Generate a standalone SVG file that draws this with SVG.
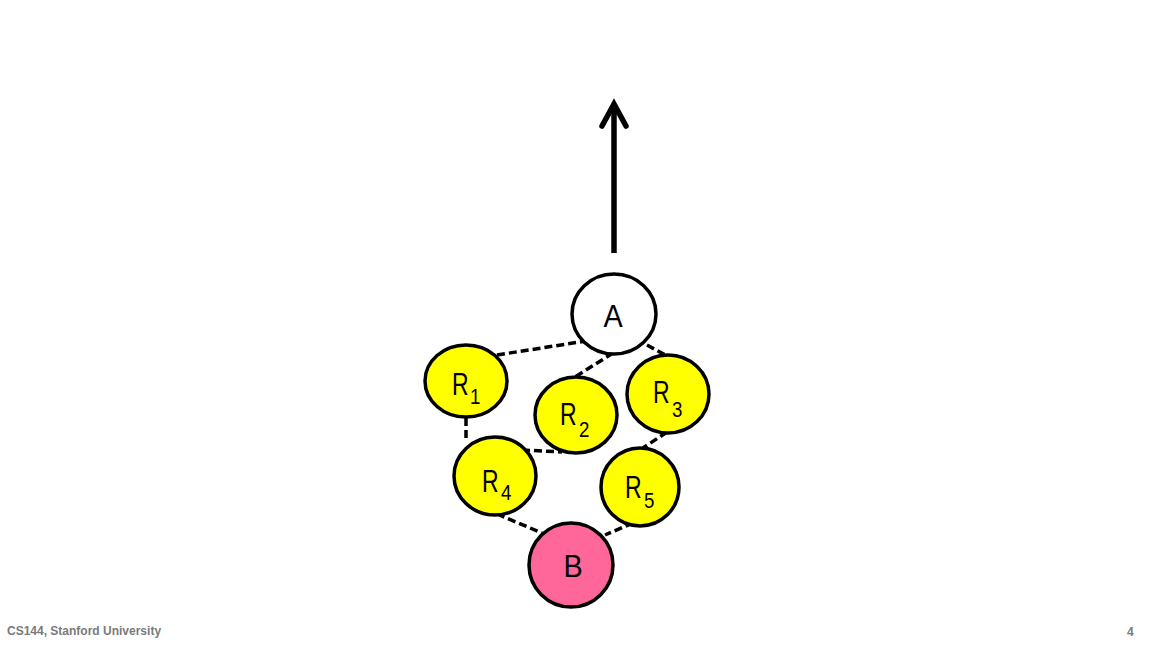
<svg xmlns="http://www.w3.org/2000/svg" width="1152" height="648" viewBox="0 0 1152 648">
<style>
.n{stroke:#000;stroke-width:3.5}
.y{fill:#ffff00}
.w{fill:#fff}
.p{fill:#ff6699}
.lbl{font-family:"Liberation Sans",Arial,sans-serif;font-size:32px;fill:#000}
.sub{font-family:"Liberation Sans",Arial,sans-serif;font-size:22px;fill:#000}
.e{stroke:#000;stroke-width:3.5;stroke-dasharray:8 4;fill:none}
.foot{font-family:"Liberation Sans",Arial,sans-serif;font-size:12px;fill:#7a7a7a;font-weight:bold}
</style>
<rect width="1152" height="648" fill="#fff"/>
<g id="connectors">
<line class="e" x1="497" y1="355" x2="586" y2="341"/>
<line class="e" x1="613" y1="353" x2="575" y2="377"/>
<line class="e" x1="647" y1="345" x2="667" y2="356"/>
<line class="e" x1="466" y1="418" x2="466" y2="441"/>
<line class="e" x1="522" y1="450" x2="562" y2="452"/>
<line class="e" x1="667" y1="432" x2="643" y2="448"/>
<line class="e" x1="497" y1="514" x2="542" y2="533"/>
<line class="e" x1="633" y1="523" x2="605" y2="535"/>
<g id="arrow">
<line x1="614" y1="253" x2="614" y2="106" stroke="#000" stroke-width="5.5"/>
<polyline points="602,126 614,104 626,126" fill="none" stroke="#000" stroke-width="5.5" stroke-linejoin="miter" stroke-linecap="round"/>
</g>
</g>
<g id="A"><ellipse class="n w" cx="614" cy="314" rx="42" ry="40"/><text class="lbl" x="613" y="327" font-size="33" text-anchor="middle" transform="translate(613,0) scale(0.9,1) translate(-613,0)">A</text></g>
<g id="R1"><ellipse class="n y" cx="466" cy="381" rx="41" ry="36"/><text class="lbl" transform="translate(452,395) scale(0.72,1)">R</text><text class="sub" transform="translate(470,404) scale(0.85,1)">1</text></g>
<g id="R2"><ellipse class="n y" cx="576" cy="415" rx="41" ry="38"/><text class="lbl" transform="translate(560,425) scale(0.72,1)">R</text><text class="sub" transform="translate(579,437) scale(0.85,1)">2</text></g>
<g id="R3"><ellipse class="n y" cx="668" cy="394" rx="41" ry="39"/><text class="lbl" transform="translate(653,403) scale(0.72,1)">R</text><text class="sub" transform="translate(672,417) scale(0.85,1)">3</text></g>
<g id="R4"><ellipse class="n y" cx="495" cy="476" rx="41" ry="39"/><text class="lbl" transform="translate(482,492) scale(0.72,1)">R</text><text class="sub" transform="translate(501,500) scale(0.85,1)">4</text></g>
<g id="R5"><ellipse class="n y" cx="640" cy="487" rx="39" ry="39"/><text class="lbl" transform="translate(625,498) scale(0.72,1)">R</text><text class="sub" transform="translate(644,508) scale(0.85,1)">5</text></g>
<g id="B"><ellipse class="n p" cx="571" cy="565" rx="42" ry="42"/><text class="lbl" x="573" y="577" font-size="31" text-anchor="middle" transform="translate(573,0) scale(0.9,1) translate(-573,0)">B</text></g>
<text class="foot" x="7" y="635">CS144, Stanford University</text>
<text class="foot" x="1127" y="636" font-weight="normal">4</text>
</svg>
